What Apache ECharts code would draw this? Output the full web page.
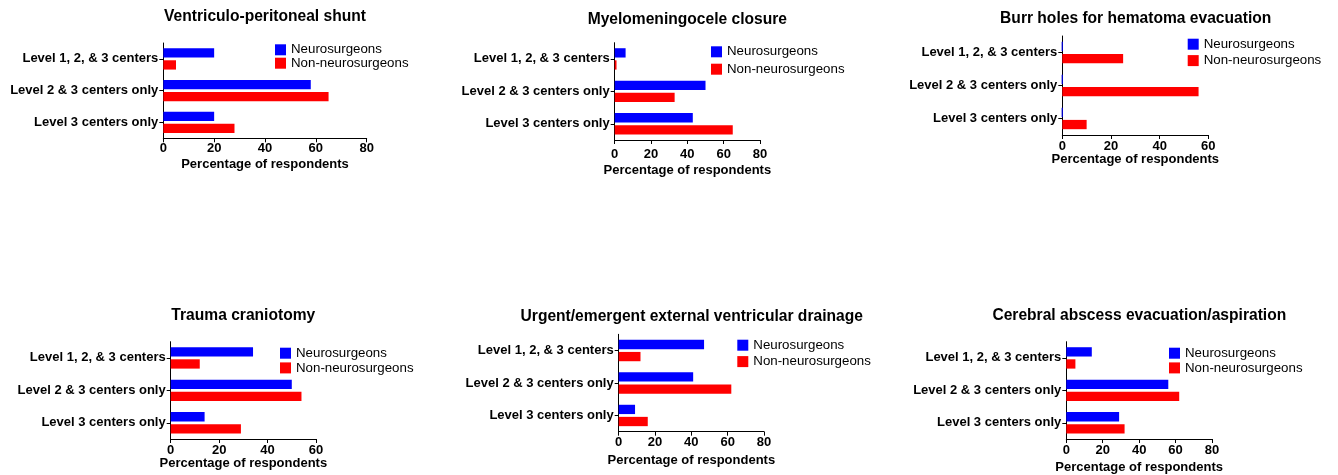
<!DOCTYPE html>
<html>
<head>
<meta charset="utf-8">
<script src="https://cdn.jsdelivr.net/npm/echarts@6/dist/echarts.min.js"></script>
<style>
  html, body { margin: 0; padding: 0; background: #ffffff; }
  #chart { width: 1338px; height: 475px; }
</style>
</head>
<body>
<div id="chart"></div>
<script>
// Centre levels at which each procedure should be performed
const categories = ['Level 1, 2, & 3 centers', 'Level 2 & 3 centers only', 'Level 3 centers only'];
const seriesNames = ['Neurosurgeons', 'Non-neurosurgeons'];
const panelTitles = [
  'Ventriculo-peritoneal shunt',
  'Myelomeningocele closure',
  'Burr holes for hematoma evacuation',
  'Trauma craniotomy',
  'Urgent/emergent external ventricular drainage',
  'Cerebral abscess evacuation/aspiration'
];
const axisName = 'Percentage of respondents';

// Percentage of respondents per category
const vpShuntNeuro = [20, 58, 20];
const vpShuntNon = [5, 65, 28];
const mmcNeuro = [6, 50, 43];
const mmcNon = [1, 33, 65];
const burrHolesNeuro = [0, 0, 0];
const burrHolesNon = [25, 56, 10];
const traumaNeuro = [34, 50, 14];
const traumaNon = [12, 54, 29];
const evdNeuro = [47, 41, 9];
const evdNon = [12, 62, 16];
const abscessNeuro = [14, 56, 29];
const abscessNon = [5, 62, 32];

const axisMax = [80, 80, 60, 60, 80, 80];
const tickStep = 20;

const panelData = [
  [vpShuntNeuro, vpShuntNon],
  [mmcNeuro, mmcNon],
  [burrHolesNeuro, burrHolesNon],
  [traumaNeuro, traumaNon],
  [evdNeuro, evdNon],
  [abscessNeuro, abscessNon]
];

// Panel geometry (pixels)
const layout = [
  { grid: [163.3, 43, 203.4, 95.3], title: [265, 17], legend: [275, 43.3, 0.4], labelMargin: 4, nameGap: 19.5 },
  { grid: [614.7, 42.7, 145.3, 97.3], title: [687.3, 19.3], legend: [711, 45.3, 4.4], labelMargin: 7.5, nameGap: 23.5 },
  { grid: [1062.3, 36, 146, 99], title: [1135.7, 19], legend: [1187.7, 37.7, 3.4], labelMargin: 4.5, nameGap: 13.5 },
  { grid: [170.7, 341.7, 145.3, 97.3], title: [243.3, 316], legend: [280, 346.7, 1.7], labelMargin: 4.5, nameGap: 16 },
  { grid: [618.7, 334.3, 145.3, 97.4], title: [691.7, 316.7], legend: [737.3, 338.7, 3.4], labelMargin: 4.5, nameGap: 22 },
  { grid: [1066.3, 341.7, 145.7, 97.3], title: [1139.3, 316], legend: [1169, 346.7, 1.7], labelMargin: 4.5, nameGap: 22 }
];

const FONT = "'Liberation Sans', Arial, Helvetica, sans-serif";
const COLORS = ['#0000ff', '#ff0000'];

const grids = [], xAxes = [], yAxes = [], legends = [], series = [], graphics = [];

layout.forEach((p, i) => {
  grids.push({ left: p.grid[0], top: p.grid[1], width: p.grid[2], height: p.grid[3], containLabel: false });

  xAxes.push({
    type: 'value', gridIndex: i, min: 0, max: axisMax[i], interval: tickStep,
    name: axisName, nameLocation: 'middle', nameGap: p.nameGap,
    nameTextStyle: { fontFamily: FONT, fontWeight: 'bold', fontSize: 13, color: '#000' },
    axisLine: { show: true, lineStyle: { color: '#000', width: 1 } },
    axisTick: { show: true, length: 4, lineStyle: { color: '#000', width: 1 } },
    axisLabel: { fontFamily: FONT, fontWeight: 'bold', fontSize: 13, color: '#000', margin: p.labelMargin },
    splitLine: { show: false }
  });

  yAxes.push({
    type: 'category', gridIndex: i, data: categories, inverse: true,
    axisLine: { show: true, lineStyle: { color: '#000', width: 1 } },
    axisTick: { show: true, alignWithLabel: true, length: 4, lineStyle: { color: '#000', width: 1 } },
    axisLabel: { fontFamily: FONT, fontWeight: 'bold', fontSize: 13, color: '#000', margin: 5 },
    splitLine: { show: false }
  });

  legends.push({
    left: p.legend[0], top: p.legend[1], orient: 'vertical', padding: 0,
    itemWidth: 11, itemHeight: 11, itemGap: p.legend[2], icon: 'rect',
    selectedMode: false, data: seriesNames,
    textStyle: { fontFamily: FONT, fontSize: 13.3, color: '#000', lineHeight: 11, padding: [0, 0, 0, 0] }
  });

  panelData[i].forEach((vals, s) => {
    const style = { color: COLORS[s] };
    if (i === 2 && s === 0) {
      // zero-width bars still show as a hairline
      style.borderColor = '#0000cc';
      style.borderWidth = 1;
    }
    series.push({
      type: 'bar', name: seriesNames[s], xAxisIndex: i, yAxisIndex: i,
      data: vals, barWidth: 9.3, barGap: '30%', itemStyle: style,
      silent: true, animation: false
    });
  });

  graphics.push({
    type: 'text', x: p.title[0], y: p.title[1], silent: true,
    style: {
      text: panelTitles[i], align: 'center', verticalAlign: 'middle',
      font: "bold 15.6px " + FONT, fill: '#000'
    }
  });
});

const chart = echarts.init(document.getElementById('chart'), null, { renderer: 'canvas' });
chart.setOption({
  backgroundColor: '#ffffff',
  animation: false,
  grid: grids,
  xAxis: xAxes,
  yAxis: yAxes,
  legend: legends,
  series: series,
  graphic: graphics
});
</script>
</body>
</html>
